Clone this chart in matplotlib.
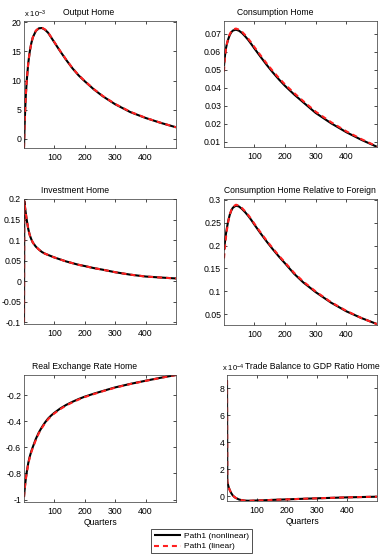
import matplotlib
matplotlib.use('Agg')
import matplotlib.pyplot as plt
from matplotlib.ticker import FuncFormatter

plt.rcParams['font.family'] = ['Liberation Sans', 'DejaVu Sans']
plt.rcParams['mathtext.fontset'] = 'custom'
plt.rcParams['mathtext.rm'] = 'Liberation Sans'
plt.rcParams['mathtext.it'] = 'Liberation Sans'

quarters = [1, 2, 3, 5, 7, 10, 15, 20, 25, 30, 40, 50, 60, 70, 80, 90, 100,
            120, 140, 160, 180, 200, 230, 260, 300, 350, 400, 450, 500]

# Output Home (x 1e-3)
output_nl = [-1.5, 0.5, 2.3, 5.2, 7.5, 10.0, 13.0, 15.0, 16.4, 17.4, 18.5, 18.95, 19.0,
             18.7, 18.2, 17.4, 16.6, 15.0, 13.5, 12.1, 10.9, 9.9, 8.5, 7.3, 5.95,
             4.6, 3.6, 2.75, 2.0]
output_lin = [-1.5, 0.5, 2.3, 5.2, 7.5, 10.0, 13.0, 15.0, 16.4, 17.4, 18.55, 19.0, 19.05,
              18.75, 18.25, 17.45, 16.65, 15.05, 13.55, 12.15, 10.95, 9.95, 8.55, 7.35, 6.0,
              4.65, 3.62, 2.77, 2.0]

# Consumption Home
cons_nl = [0.052, 0.054, 0.056, 0.059, 0.0615, 0.064, 0.067, 0.0693, 0.0708, 0.0717,
           0.0722, 0.0716, 0.0703, 0.0685, 0.0665, 0.0642, 0.0618, 0.0572, 0.0527,
           0.0485, 0.0446, 0.041, 0.0362, 0.0318, 0.026, 0.0203, 0.0153, 0.011, 0.0072]
cons_lin = [0.049, 0.052, 0.0545, 0.058, 0.061, 0.064, 0.0675, 0.0698, 0.0713, 0.0723,
            0.0728, 0.0722, 0.071, 0.0692, 0.0672, 0.065, 0.0626, 0.058, 0.0535,
            0.0493, 0.0454, 0.0418, 0.037, 0.0325, 0.0267, 0.0209, 0.0158, 0.0114, 0.0074]

# Investment Home
inv_nl = [-0.1, 0.195, 0.188, 0.176, 0.165, 0.149, 0.127, 0.112, 0.102, 0.094, 0.084,
          0.077, 0.071, 0.067, 0.064, 0.061, 0.058, 0.053, 0.048, 0.044, 0.040, 0.037,
          0.032, 0.028, 0.022, 0.016, 0.0115, 0.009, 0.0068]
inv_lin = inv_nl

# Consumption Home Relative to Foreign
rel_nl = [0.19, 0.196, 0.202, 0.213, 0.224, 0.237, 0.255, 0.268, 0.277, 0.283, 0.2875,
          0.2855, 0.280, 0.273, 0.265, 0.256, 0.246, 0.227, 0.209, 0.192, 0.176, 0.161,
          0.138, 0.119, 0.098, 0.075, 0.056, 0.041, 0.028]
rel_lin = [0.172, 0.18, 0.188, 0.203, 0.216, 0.232, 0.253, 0.268, 0.278, 0.285, 0.2895,
           0.2875, 0.282, 0.275, 0.267, 0.258, 0.248, 0.229, 0.211, 0.194, 0.178, 0.163,
           0.140, 0.121, 0.0995, 0.076, 0.057, 0.041, 0.028]

# Real Exchange Rate Home
rer_nl = [-0.98, -0.95, -0.925, -0.88, -0.84, -0.79, -0.72, -0.67, -0.63, -0.597,
          -0.535, -0.485, -0.445, -0.41, -0.38, -0.357, -0.337, -0.303, -0.275, -0.252,
          -0.231, -0.213, -0.19, -0.169, -0.142, -0.115, -0.091, -0.068, -0.047]
rer_lin = [-0.98, -0.95, -0.925, -0.882, -0.843, -0.795, -0.726, -0.677, -0.637, -0.604,
           -0.542, -0.491, -0.451, -0.416, -0.386, -0.362, -0.342, -0.308, -0.279, -0.256,
           -0.235, -0.216, -0.193, -0.171, -0.144, -0.116, -0.092, -0.069, -0.047]

# Trade Balance to GDP Ratio Home (x 1e-4)
tb_nl = [8.6, 1.1, 0.95, 0.78, 0.63, 0.45, 0.22, 0.05, -0.06, -0.14, -0.25, -0.31, -0.34,
         -0.35, -0.35, -0.34, -0.33, -0.32, -0.30, -0.28, -0.265, -0.25, -0.225, -0.2,
         -0.17, -0.135, -0.1, -0.075, -0.05]
tb_lin = tb_nl

titles = ['Output Home', 'Consumption Home', 'Investment Home',
          'Consumption Home Relative to Foreign', 'Real Exchange Rate Home',
          'Trade Balance to GDP Ratio Home']
series = [(output_nl, output_lin), (cons_nl, cons_lin), (inv_nl, inv_lin),
          (rel_nl, rel_lin), (rer_nl, rer_lin), (tb_nl, tb_lin)]
yticks = [[0, 5, 10, 15, 20],
          [0.01, 0.02, 0.03, 0.04, 0.05, 0.06, 0.07],
          [-0.1, -0.05, 0, 0.05, 0.1, 0.15, 0.2],
          [0.05, 0.1, 0.15, 0.2, 0.25, 0.3],
          [-1, -0.8, -0.6, -0.4, -0.2],
          [0, 2, 4, 6, 8]]
ylims = [(-1.55, 20.2), (0.0071, 0.077), (-0.104, 0.2),
         (0.026, 0.302), (-1.018, -0.047), (-0.37, 9.0)]
scales = ['x 10$^{-3}$', None, None, None, None, 'x 10$^{-4}$']

# axes boxes in pixels: left, top, right, bottom
boxes = [(24, 21, 176, 148), (224, 21, 377, 147),
         (24, 199, 176, 324), (224, 199, 377, 325),
         (24, 375, 176, 502), (227, 375, 377, 501)]
title_x = [0.255, 0.083, 0.11, 0.0, 0.05, 0.12]

W, H = 390, 555
fig = plt.figure(figsize=(W / 100, H / 100), dpi=100)

for i in range(6):
    l, t, r, b = boxes[i]
    ax = fig.add_axes([l / W, 1 - b / H, (r - l) / W, (b - t) / H])
    nl, lin = series[i]
    h1, = ax.plot(quarters, nl, color='black', lw=1.5, solid_capstyle='butt')
    h2, = ax.plot(quarters, lin, color='#ff2020', lw=1.5, linestyle=(0, (2.4, 1.9)))
    ax.set_xlim(1, 500)
    ax.set_ylim(*ylims[i])
    ax.set_xticks([100, 200, 300, 400])
    ax.set_yticks(yticks[i])
    ax.yaxis.set_major_formatter(FuncFormatter(lambda v, p: '{:g}'.format(round(v, 6))))
    ax.tick_params(direction='in', top=True, right=True, length=2.5, width=0.5,
                   labelsize=6.3)
    ax.tick_params(axis='x', pad=3.5)
    ax.tick_params(axis='y', pad=2)
    for s in ax.spines.values():
        s.set_linewidth(0.5)
        s.set_color('#333333')
    ax.annotate(titles[i], xy=(title_x[i], 1), xycoords='axes fraction',
                xytext=(0, 4.5), textcoords='offset points',
                ha='left', va='baseline', fontsize=6.2)
    if scales[i]:
        ax.annotate(scales[i], xy=(0, 1), xycoords='axes fraction',
                    xytext=(-3.4 if i == 5 else 0, 2.6), textcoords='offset points',
                    ha='left', va='baseline', fontsize=5.5)
    if i >= 4:
        ax.set_xlabel('Quarters', fontsize=6.2, labelpad=1.5)

leg = fig.legend([h1, h2], ['Path1 (nonlinear)', 'Path1 (linear)'],
                 loc='lower left', bbox_to_anchor=(151 / W, 1 - 553 / H),
                 fontsize=6, handlelength=3.3, handletextpad=0.4,
                 borderpad=0.3, labelspacing=0.35, borderaxespad=0,
                 fancybox=False, framealpha=1)
leg.get_frame().set_edgecolor('#333333')
leg.get_frame().set_linewidth(0.6)

fig.savefig('out.png', dpi=100)
